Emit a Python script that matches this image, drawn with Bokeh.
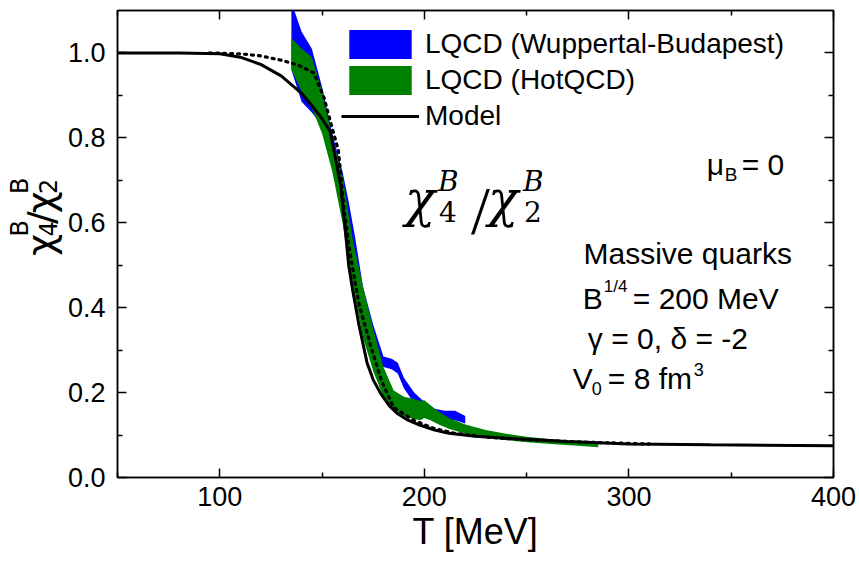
import math
from bokeh.plotting import figure
from bokeh.layouts import row
from bokeh.models import (Label, LinearAxis, FixedTicker, NumeralTickFormatter,
                          CustomJSTickFormatter, Legend, LegendItem, Range1d)
from bokeh.embed import file_html
from bokeh.resources import INLINE

# ---------------- data ----------------
T_model = [50, 80, 100, 110, 120, 130, 140, 146, 150, 154, 157, 159, 161, 163, 165,
           168, 172, 175, 179, 183, 187, 192, 198, 205, 212, 225, 245, 270, 300, 340, 400]
chi_model = [1.0, 1.0, 0.998, 0.99, 0.973, 0.946, 0.905, 0.87, 0.845, 0.815, 0.74, 0.69,
             0.60, 0.50, 0.44, 0.36, 0.27, 0.23, 0.195, 0.168, 0.15, 0.135, 0.123, 0.112,
             0.104, 0.097, 0.091, 0.085, 0.079, 0.077, 0.075]

T_dot = [95, 110, 120, 130, 138, 146, 151, 154, 158, 161, 164, 168, 174, 179, 185, 195,
         205, 215, 230, 250, 280, 310]
chi_dot = [1.0, 0.998, 0.993, 0.983, 0.972, 0.953, 0.894, 0.84, 0.77, 0.62, 0.52, 0.41,
           0.306, 0.228, 0.165, 0.134, 0.115, 0.104, 0.095, 0.089, 0.083, 0.079]

T_wb = [135, 140, 145, 150, 155, 160, 163, 166, 170, 175, 180, 184, 187, 190, 195, 200,
        205, 210, 215, 220]
wb_hi = [1.12, 1.05, 1.01, 0.92, 0.81, 0.72, 0.65, 0.57, 0.45, 0.36, 0.285, 0.28, 0.27,
         0.235, 0.20, 0.178, 0.162, 0.157, 0.157, 0.145]
wb_lo = [0.96, 0.885, 0.86, 0.83, 0.75, 0.62, 0.55, 0.47, 0.38, 0.31, 0.26, 0.255, 0.245,
         0.21, 0.175, 0.155, 0.14, 0.135, 0.135, 0.127]

T_hot = [135, 140, 145, 150, 155, 160, 165, 170, 175, 180, 185, 190, 195, 198, 200, 203,
         207, 212, 220, 230, 240, 250, 262, 275, 285]
hot_hi = [1.035, 1.01, 0.99, 0.91, 0.80, 0.71, 0.56, 0.45, 0.35, 0.26, 0.205, 0.19, 0.185,
          0.18, 0.182, 0.17, 0.155, 0.14, 0.125, 0.112, 0.103, 0.096, 0.09, 0.085, 0.08]
hot_lo = [0.96, 0.91, 0.87, 0.81, 0.72, 0.60, 0.45, 0.33, 0.25, 0.19, 0.16, 0.145, 0.138,
          0.135, 0.14, 0.135, 0.125, 0.115, 0.103, 0.094, 0.088, 0.083, 0.079, 0.075, 0.071]

x_major = [100, 200, 300, 400]
x_minor = [50, 150, 250, 350]
y_major = [0.0, 0.2, 0.4, 0.6, 0.8, 1.0]
y_minor = [0.1, 0.3, 0.5, 0.7, 0.9]

# ---------------- layout geometry (page pixels) ----------------
W, H = 858, 560
SIDE_W = 64                       # narrow strip holding the rotated y label
FL, FR, FT, FB = 116, 833, 10, 477  # main frame edges on the page

X0, X1, Y0, Y1 = 50, 400, 0.0, 1.1
p = figure(width=W - SIDE_W, height=H, output_backend="svg", toolbar_location=None,
           x_range=Range1d(X0, X1), y_range=Range1d(Y0, Y1),
           min_border_left=FL - SIDE_W, min_border_right=W - FR, min_border_top=FT,
           min_border_bottom=H - FB)
p.grid.visible = False
p.outline_line_color = "black"
p.outline_line_width = 1.5
p.background_fill_color = "white"
p.border_fill_color = "white"

def X(px):
    return X0 + (px - FL) * (X1 - X0) / (FR - FL)
def Y(py):
    return Y0 + (FB - py) * (Y1 - Y0) / (FB - FT)

FONT = "Liberation Sans"

def style_axis(ax, ticks, minor, labels=True):
    ax.ticker = FixedTicker(ticks=ticks, minor_ticks=minor)
    ax.axis_line_color = "black"
    ax.axis_line_width = 1.5
    ax.major_tick_line_color = "black"
    ax.minor_tick_line_color = "black"
    ax.major_tick_line_width = 1.5
    ax.minor_tick_line_width = 1.5
    ax.major_tick_in = 9
    ax.major_tick_out = 0
    ax.minor_tick_in = 5
    ax.minor_tick_out = 0
    if labels:
        ax.major_label_text_font = FONT
        ax.major_label_text_font_size = "27px"
        ax.major_label_text_color = "black"
    else:
        ax.formatter = CustomJSTickFormatter(code="return ''")
        ax.major_label_text_font_size = "1px"
        ax.major_label_standoff = 0

xa = p.xaxis[0]
style_axis(xa, x_major, x_minor)
xa.major_label_standoff = 9
xa.axis_label = "T [MeV]"
xa.axis_label_text_font = FONT
xa.axis_label_text_font_size = "36px"
xa.axis_label_text_font_style = "normal"
xa.axis_label_text_color = "black"
xa.axis_label_standoff = 2

ya = p.yaxis[0]
style_axis(ya, y_major, y_minor)
ya.major_label_standoff = 12
ya.formatter = NumeralTickFormatter(format="0.0")

top = LinearAxis()
style_axis(top, x_major, x_minor, labels=False)
p.add_layout(top, "above")
right = LinearAxis()
style_axis(right, y_major, y_minor, labels=False)
p.add_layout(right, "right")

# ---------------- glyphs ----------------
r_wb = p.varea(x=T_wb, y1=wb_lo, y2=wb_hi, fill_color="#0000ff")
r_hot = p.varea(x=T_hot, y1=hot_lo, y2=hot_hi, fill_color="#008000")
p.line(T_dot, chi_dot, line_color="black", line_width=3.2, line_dash="2 5",
       line_cap="round")
r_model = p.line(T_model, chi_model, line_color="black", line_width=3)

legend = Legend(items=[
    LegendItem(label="LQCD (Wuppertal-Budapest)", renderers=[r_wb]),
    LegendItem(label="LQCD (HotQCD)", renderers=[r_hot]),
    LegendItem(label="Model", renderers=[r_model]),
], location=(340 - FL, (FB - FT) - 16 - 108))
legend.glyph_width = 78
legend.glyph_height = 36
legend.label_height = 36
legend.spacing = 0
legend.padding = 0
legend.margin = 0
legend.label_standoff = 6
legend.label_text_font = FONT
legend.label_text_font_size = "28px"
legend.label_text_color = "black"
legend.border_line_color = None
legend.background_fill_alpha = 0
p.add_layout(legend)

# ---------------- annotations ----------------
SHIFT = 9   # renderer places the alphabetic baseline this far below the anchor

def lab(fig, text, x, y, size, font=FONT, style="normal", align="left", angle=0.0):
    fig.add_layout(Label(x=x, y=y, text=text, text_font=font,
                         text_font_size=f"{size}px", text_font_style=style,
                         text_align=align, text_baseline="alphabetic",
                         text_color="black", angle=angle))

def mlab(text, px, py, size, **kw):
    lab(p, text, X(px), Y(py - SHIFT), size, **kw)

# mu_B = 0
mlab("μ", 706, 173, 30)
mlab("B", 724, 183, 19)
mlab("= 0", 741, 173, 30)
# parameter block
mlab("Massive quarks", 687, 262, 30, align="center")
mlab("B", 582, 307, 30)
mlab("1/4", 603, 295, 17)
mlab("= 200 MeV", 632, 307, 30)
mlab("γ = 0, δ = -2", 587, 347, 30)
mlab("V", 572, 387, 30)
mlab("0", 591, 397, 18)
mlab("= 8 fm", 607, 387, 30)
mlab("3", 693, 378, 18)

# big chi_4^B / chi_2^B
SER = "DejaVu Serif"
mlab("χ", 404, 207, 50, font=SER, style="italic")
mlab("B", 437, 190, 28, font=SER, style="italic")
mlab("4", 438, 220, 28, font=SER)
mlab("/", 470, 218, 68, font="Liberation Serif")
mlab("χ", 487, 207, 50, font=SER, style="italic")
mlab("B", 522, 190, 28, font=SER, style="italic")
mlab("2", 523, 220, 28, font=SER)

# ---------------- side strip with rotated y label ----------------
s = figure(width=SIDE_W, height=H, output_backend="svg", toolbar_location=None,
           x_range=Range1d(0, SIDE_W), y_range=Range1d(H, 0),
           min_border_left=0, min_border_right=0, min_border_top=0,
           min_border_bottom=0)
s.axis.visible = False
s.grid.visible = False
s.outline_line_color = None
s.background_fill_color = "white"
s.border_fill_color = "white"

A = math.pi / 2
YF = "DejaVu Sans"
def ylab(text, bx, py, size):
    # bx: wanted baseline x on the page; py: start of the text along the axis
    lab(s, text, bx - SHIFT, py, size, font=YF, angle=A)

ylab("χ", 49, 294, 38)
ylab("4", 56, 271, 24)
ylab("B", 28, 271, 24)
ylab("/", 49, 256, 38)
ylab("χ", 49, 243, 38)
ylab("2", 56, 220, 24)
ylab("B", 28, 220, 24)

layout = row(s, p, spacing=0)
open("out.html", "w").write(file_html(layout, INLINE))
